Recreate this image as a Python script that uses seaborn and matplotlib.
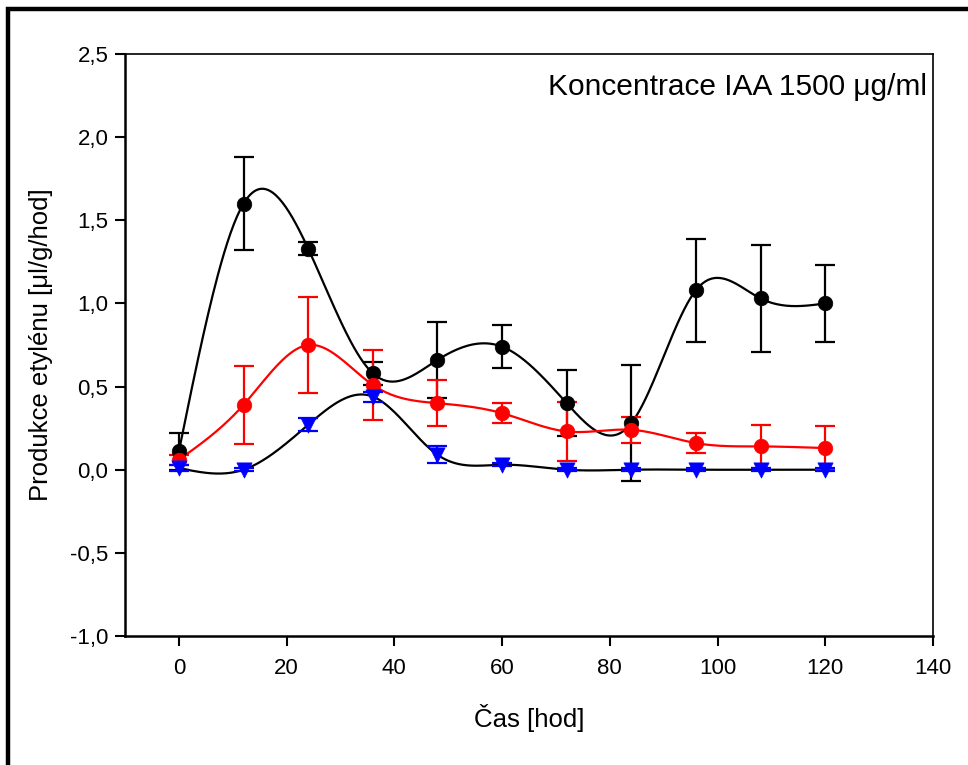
import numpy as np
import pandas as pd
import matplotlib
matplotlib.use("Agg")
import matplotlib.pyplot as plt
import seaborn as sns
from matplotlib.patches import Rectangle
from matplotlib.ticker import FuncFormatter

# ---- data ----
time_h = [0, 12, 24, 36, 48, 60, 72, 84, 96, 108, 120]

black_mean = [0.11, 1.60, 1.33, 0.58, 0.66, 0.74, 0.40, 0.28, 1.08, 1.03, 1.00]
black_err  = [0.11, 0.28, 0.04, 0.07, 0.23, 0.13, 0.20, 0.35, 0.31, 0.32, 0.23]

red_mean = [0.06, 0.39, 0.75, 0.51, 0.40, 0.34, 0.23, 0.24, 0.16, 0.14, 0.13]
red_err  = [0.03, 0.235, 0.29, 0.21, 0.14, 0.06, 0.18, 0.08, 0.06, 0.13, 0.13]

blue_mean = [0.01, 0.00, 0.27, 0.44, 0.09, 0.03, 0.00, 0.00, 0.00, 0.00, 0.00]
blue_err  = [0.02, 0.01, 0.04, 0.03, 0.05, 0.01, 0.01, 0.01, 0.01, 0.01, 0.01]

x_ticks = [0, 20, 40, 60, 80, 100, 120, 140]
y_ticks = [-1.0, -0.5, 0.0, 0.5, 1.0, 1.5, 2.0, 2.5]

title_text = "Koncentrace IAA 1500 μg/ml"
x_label = "Čas [hod]"
y_label = "Produkce etylénu [μl/g/hod]"


def natural_spline(x, y, n=400):
    x = np.asarray(x, float)
    y = np.asarray(y, float)
    k = len(x)
    h = np.diff(x)
    A = np.zeros((k, k))
    b = np.zeros(k)
    A[0, 0] = 1
    A[-1, -1] = 1
    for i in range(1, k - 1):
        A[i, i - 1] = h[i - 1]
        A[i, i] = 2 * (h[i - 1] + h[i])
        A[i, i + 1] = h[i]
        b[i] = 6 * ((y[i + 1] - y[i]) / h[i] - (y[i] - y[i - 1]) / h[i - 1])
    M = np.linalg.solve(A, b)
    xs = np.linspace(x[0], x[-1], n)
    idx = np.clip(np.searchsorted(x, xs) - 1, 0, k - 2)
    x0, x1 = x[idx], x[idx + 1]
    hh = x1 - x0
    t0 = x1 - xs
    t1 = xs - x0
    ys = (M[idx] * t0 ** 3 / (6 * hh) + M[idx + 1] * t1 ** 3 / (6 * hh)
          + (y[idx] / hh - M[idx] * hh / 6) * t0
          + (y[idx + 1] / hh - M[idx + 1] * hh / 6) * t1)
    return xs, ys


sns.set_style("white")
plt.rcParams['font.family'] = ['Liberation Sans', 'DejaVu Sans']
plt.rcParams['text.color'] = 'black'
plt.rcParams['axes.labelcolor'] = 'black'

fig = plt.figure(figsize=(9.68, 7.65), dpi=100)
ax = fig.add_axes([125 / 968, 1 - 636 / 765, (933 - 125) / 968, (636 - 54) / 765])

series = [
    (black_mean, black_err, "black", "black", "o"),
    (red_mean, red_err, "red", "red", "o"),
    (blue_mean, blue_err, "blue", "black", "v"),
]

for mean, err, col, linecol, mk in series:
    xs, ys = natural_spline(time_h, mean)
    curve = pd.DataFrame({"t": xs, "v": ys})
    sns.lineplot(data=curve, x="t", y="v", ax=ax, color=linecol, lw=1.6,
                 estimator=None, sort=False, zorder=2)
    ax.errorbar(time_h, mean, yerr=err, fmt="none", ecolor=col,
                elinewidth=1.6, capsize=7, capthick=1.6, zorder=3)
    pts = pd.DataFrame({"t": time_h, "v": mean})
    sns.scatterplot(data=pts, x="t", y="v", ax=ax, color=col, marker=mk,
                    s=110 if mk == "o" else 120, edgecolor=col, linewidth=0.5,
                    zorder=4)

ax.set_xlim(-10, 140)
ax.set_ylim(-1.0, 2.5)
ax.set_xticks(x_ticks)
ax.set_yticks(y_ticks)
ax.yaxis.set_major_formatter(FuncFormatter(lambda v, p: f"{v:.1f}".replace(".", ",")))
ax.tick_params(axis="both", direction="out", length=7, width=1.5,
               labelsize=16, colors="black")
ax.tick_params(axis="x", pad=9)
ax.tick_params(axis="y", pad=5)
ax.tick_params(top=False, right=False, left=True, bottom=True)
for s in ax.spines.values():
    s.set_visible(True)
    s.set_color("black")
ax.spines["left"].set_linewidth(1.8)
ax.spines["bottom"].set_linewidth(1.8)
ax.spines["top"].set_linewidth(1.2)
ax.spines["right"].set_linewidth(1.2)

ax.set_xlabel(x_label, fontsize=18.5, labelpad=18, color="black")
ax.set_ylabel(y_label, fontsize=18.5, labelpad=12, color="black")
ax.text(0.993, 0.968, title_text, transform=ax.transAxes, ha="right", va="top",
        fontsize=21.5, color="black")

# figure frame
fig.patches.append(Rectangle((8 / 968, -0.05), 1.1, 1 - 9 / 765 + 0.05,
                             transform=fig.transFigure, fill=False,
                             edgecolor="black", linewidth=3.2))

fig.savefig("out.png", dpi=100)
